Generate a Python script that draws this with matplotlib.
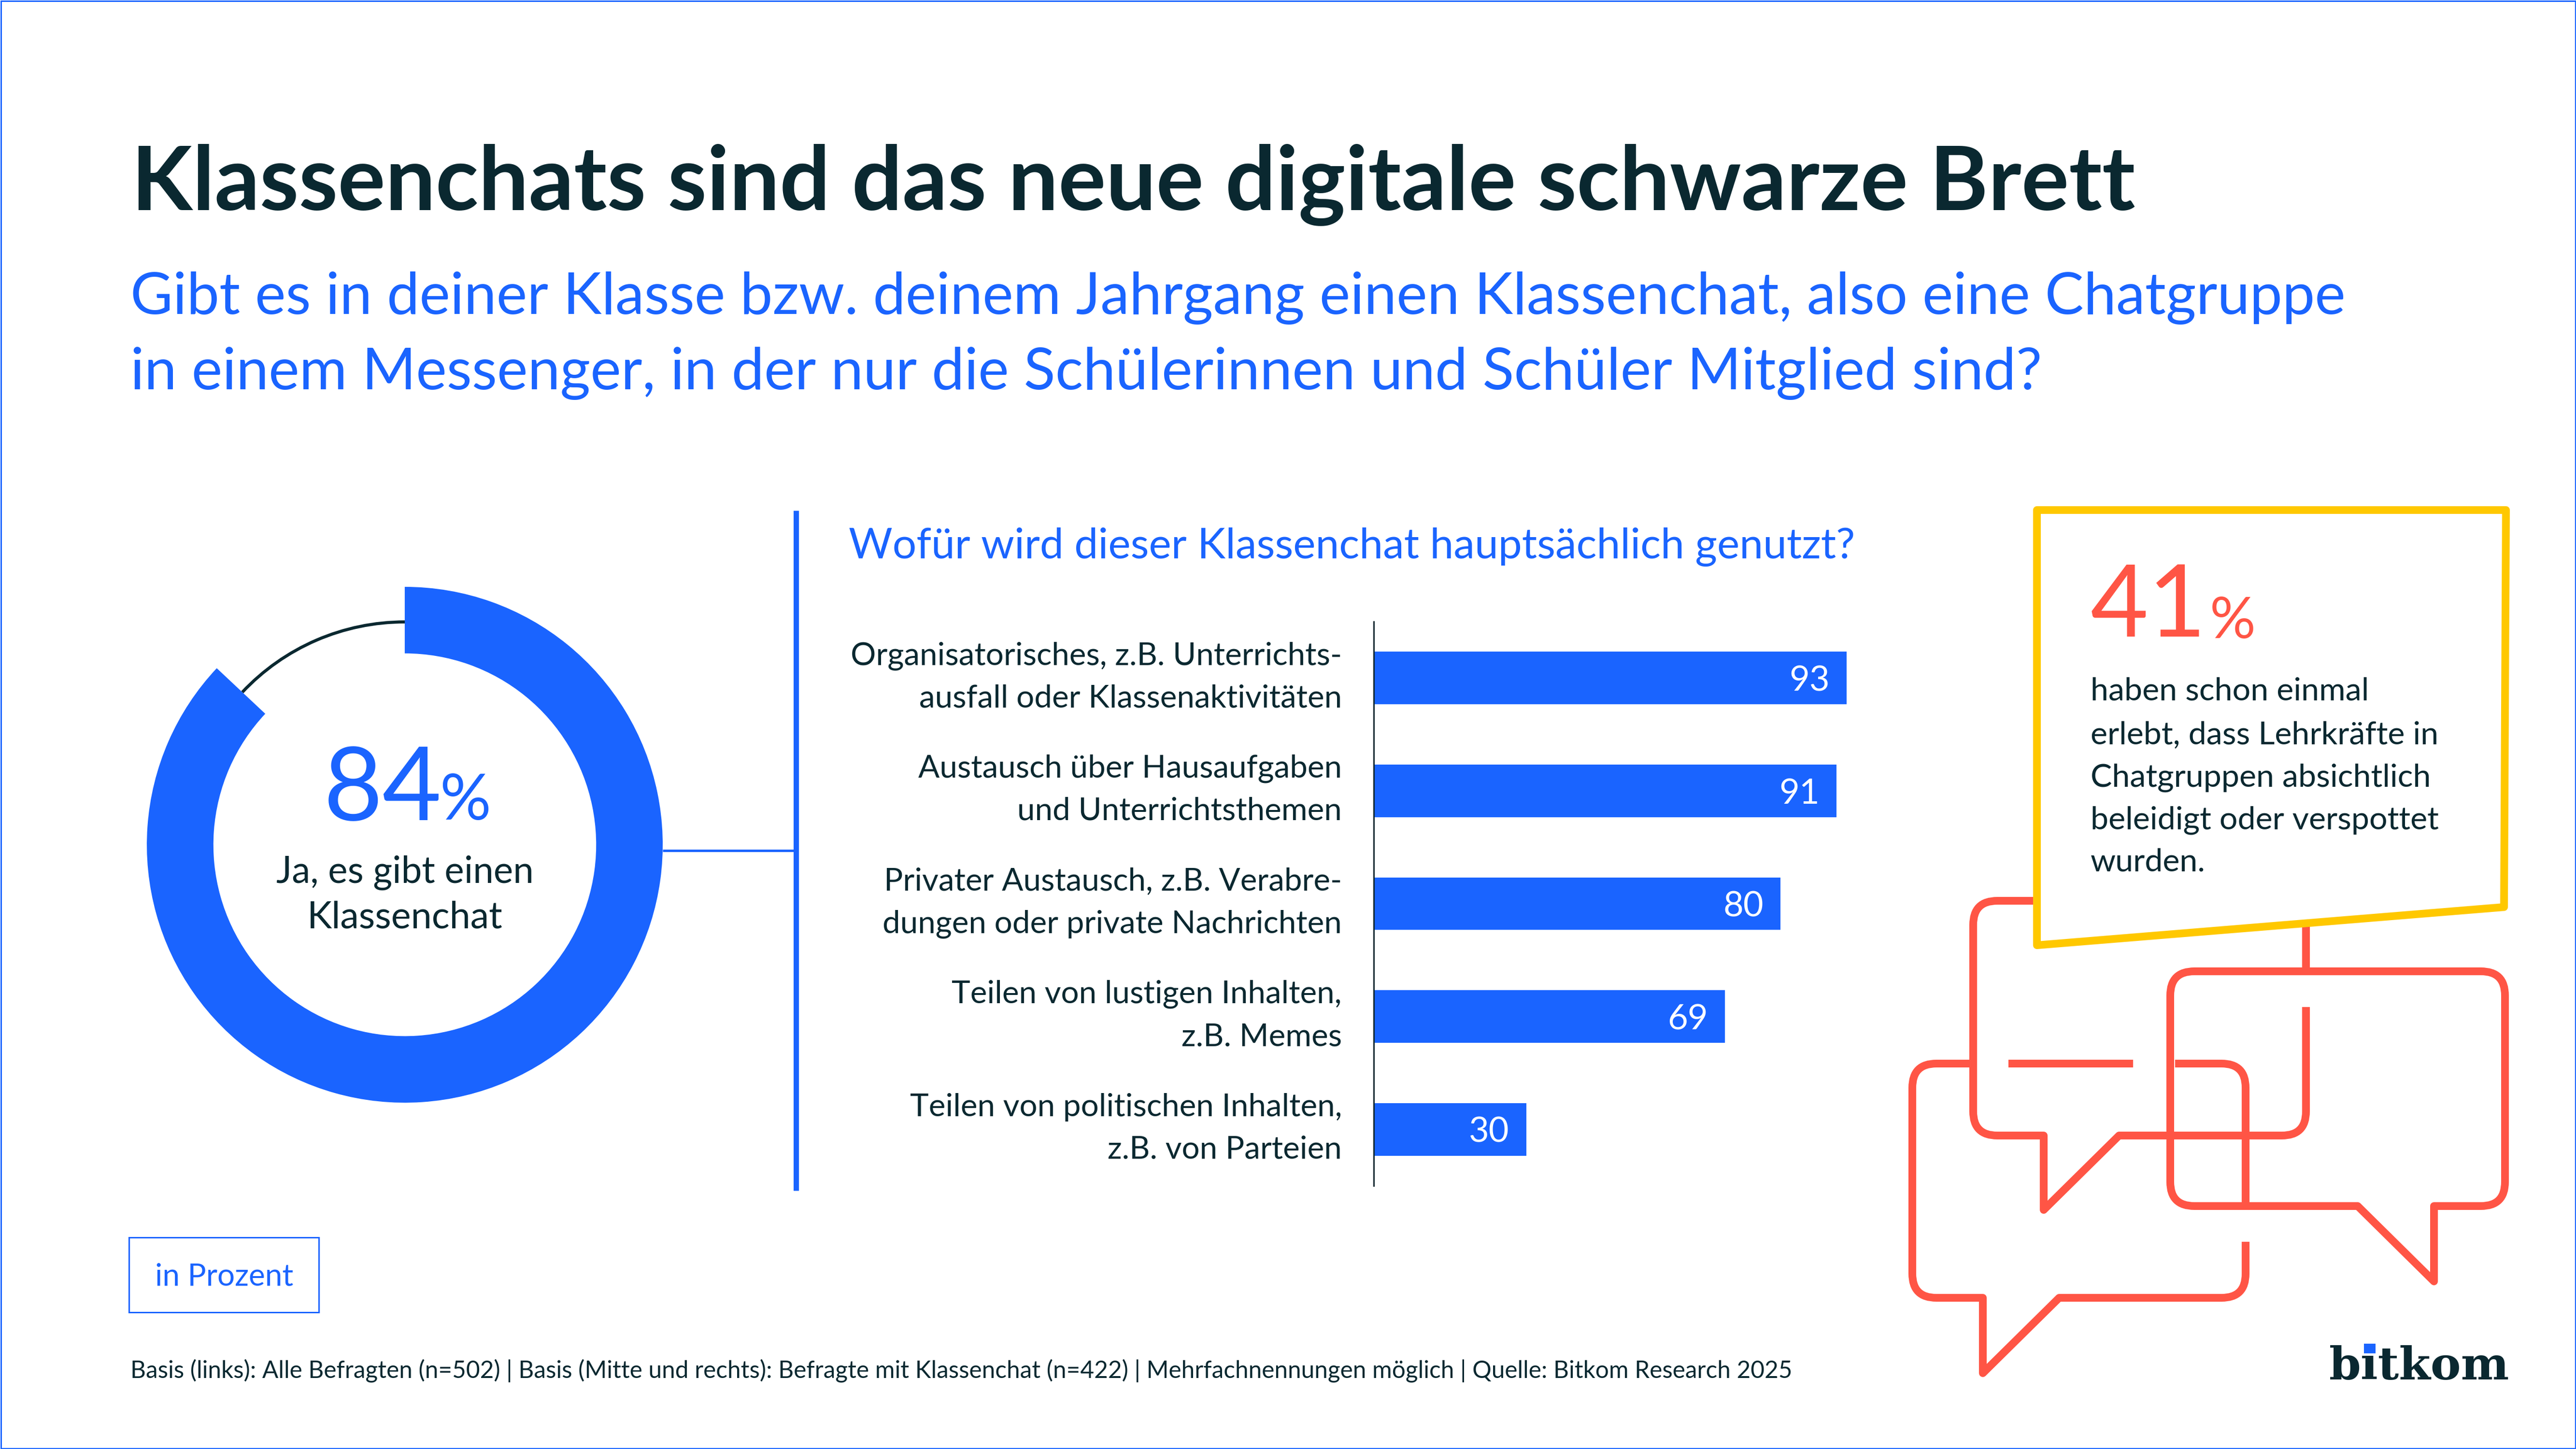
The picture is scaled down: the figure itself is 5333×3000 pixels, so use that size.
import matplotlib
matplotlib.use("Agg")
import matplotlib.pyplot as plt
from matplotlib.patches import PathPatch, Polygon, Rectangle
from matplotlib.path import Path
from matplotlib.transforms import ScaledTranslation

W, H = 5333, 3000
BLUE = "#1A64FF"
DARK = "#0A2830"
CORAL = "#FF5545"
YELLOW = "#FFC800"
FONT = "Lato"

plt.rcParams["font.family"] = [FONT, "DejaVu Sans"]

# data
title = "Klassenchats sind das neue digitale schwarze Brett"
question_lines = [
    "Gibt es in deiner Klasse bzw. deinem Jahrgang einen Klassenchat, also eine Chatgruppe",
    "in einem Messenger, in der nur die Schülerinnen und Schüler Mitglied sind?",
]
donut_label = "84"
# the ring in the picture is drawn a bit longer than the 84 it is labelled with
donut_shares = [87, 13]
usage_question = "Wofür wird dieser Klassenchat hauptsächlich genutzt?"
categories = [
    "Organisatorisches, z.B. Unterrichts-\nausfall oder Klassenaktivitäten",
    "Austausch über Hausaufgaben\nund Unterrichtsthemen",
    "Privater Austausch, z.B. Verabre-\ndungen oder private Nachrichten",
    "Teilen von lustigen Inhalten,\nz.B. Memes",
    "Teilen von politischen Inhalten,\nz.B. von Parteien",
]
values = [93, 91, 80, 69, 30]
callout_value = "41"
callout_lines = [
    "haben schon einmal",
    "erlebt, dass Lehrkräfte in",
    "Chatgruppen absichtlich",
    "beleidigt oder verspottet",
    "wurden.",
]
footer = ("Basis (links): Alle Befragten (n=502) | Basis (Mitte und rechts): Befragte mit Klassenchat (n=422) "
          "| Mehrfachnennungen möglich | Quelle: Bitkom Research 2025")

fig = plt.figure(figsize=(W / 100, H / 100), dpi=100, facecolor="white")

# page axes in pixels, y pointing down
page = fig.add_axes([0, 0, 1, 1])
page.set_xlim(0, W)
page.set_ylim(H, 0)
page.axis("off")


def px(n):
    return n * 0.72


def text_width(t):
    return t.get_window_extent(fig.canvas.get_renderer()).width


def label(x, y, s, width=None, size=40, color=DARK, weight="normal", ha="left", **kw):
    # width: target width in pixels, font size gets scaled to hit it
    t = page.text(x, y, s, fontsize=size, color=color, fontweight=weight, ha=ha, va="baseline", **kw)
    if width:
        t.set_fontsize(size * width / text_width(t))
    return t


def _towards(p, q, dist):
    dx, dy = q[0] - p[0], q[1] - p[1]
    length = (dx ** 2 + dy ** 2) ** 0.5
    return (p[0] + dx / length * dist, p[1] + dy / length * dist)


def stroke(points, color=CORAL, lw=16, radius=50, closed=False, zorder=2):
    # polyline, points with a third item get a rounded corner
    verts, codes = [], []
    n = len(points)
    for i, p in enumerate(points):
        if len(p) == 3:
            a = _towards(p, points[(i - 1) % n], radius)
            b = _towards(p, points[(i + 1) % n], radius)
            verts += [a, p[:2], b]
            codes += [Path.MOVETO if i == 0 else Path.LINETO, Path.CURVE3, Path.CURVE3]
        else:
            verts.append(p[:2])
            codes.append(Path.MOVETO if i == 0 else Path.LINETO)
    if closed:
        verts.append(verts[0])
        codes.append(Path.LINETO)
    page.add_patch(PathPatch(Path(verts, codes), fill=False, edgecolor=color, lw=px(lw),
                             joinstyle="round", capstyle="butt", zorder=zorder))


# frame
page.add_patch(Rectangle((1.5, 1.5), W - 3, H - 3, fill=False, edgecolor=BLUE, lw=px(3)))

# header
label(272, 435, title, width=4150, size=120, weight="bold")
label(270, 650, question_lines[0], width=4586, size=82, color=BLUE)
label(270, 806, question_lines[1], width=3960, size=82, color=BLUE)

# donut
R = 534
donut = fig.add_axes([(838 - R) / W, 1 - (1749 + R) / H, 2 * R / W, 2 * R / H])
donut.pie(donut_shares, colors=["none", DARK], radius=0.87, startangle=90, counterclock=False,
          wedgeprops={"width": 0.012, "linewidth": 0})
donut.pie(donut_shares, colors=[BLUE, "none"], radius=1, startangle=90, counterclock=False,
          wedgeprops={"width": 0.258, "linewidth": 0})
donut.set_xlim(-1, 1)
donut.set_ylim(-1, 1)
label(670, 1698, donut_label, width=245, size=150, color=BLUE)
label(910, 1697, "%", width=106, size=90, color=BLUE)
label(838, 1828, "Ja, es gibt einen", width=533, size=50, ha="center")
label(838, 1921, "Klassenchat", width=405, size=50, ha="center")

# connector and divider
page.plot([1372, 1648], [1761, 1761], color=BLUE, lw=px(5), solid_capstyle="butt")
page.plot([1648, 1648], [1057, 2465], color=BLUE, lw=px(11), solid_capstyle="butt")

# bars
label(1757, 1156, usage_question, width=2085, size=60, color=BLUE)
bars = fig.add_axes([2844 / W, 1 - 2455 / H, 1053 / W, (2455 - 1287) / H])
positions = list(range(len(values)))
bars.barh(positions, values, height=0.466, color=BLUE)
bars.set_xlim(0, 100)
bars.set_ylim(4.5, -0.5)
bars.set_yticks(positions, categories, fontsize=47.2, color=DARK, linespacing=1.6)
bars.tick_params(axis="y", length=0, pad=px(66))
shift_up = ScaledTranslation(0, 22 / 100, fig.dpi_scale_trans)
for tick_label in bars.get_yticklabels():
    tick_label.set_transform(tick_label.get_transform() + shift_up)
bars.set_xticks([])
for side in ["top", "right", "bottom"]:
    bars.spines[side].set_visible(False)
bars.spines["left"].set_color(DARK)
bars.spines["left"].set_linewidth(px(3))
bars.patch.set_alpha(0)
for pos, v in zip(positions, values):
    bars.annotate(str(v), (v, pos), xytext=(-px(35), -px(6)), textcoords="offset points", ha="right",
                  va="center", color="white", fontsize=52)

# speech bubbles
stroke([(4210, 1865), (4085, 1865, 1), (4085, 2351, 1), (4231, 2351), (4231, 2505), (4387, 2351),
        (4774, 2351, 1), (4774, 2085)])
stroke([(4774, 1918), (4774, 2011)])
stroke([(4800, 2011), (5186, 2011, 1), (5186, 2497, 1), (5039, 2497), (5039, 2653), (4881, 2497),
        (4493, 2497, 1), (4493, 2011, 1)], closed=True)
stroke([(4085, 2202), (3959, 2202, 1), (3959, 2687, 1), (4105, 2687), (4105, 2843), (4263, 2687),
        (4649, 2687, 1), (4649, 2571)])
stroke([(4649, 2497), (4649, 2202, 1), (4503, 2202)])
stroke([(4158, 2202), (4416, 2202)])

# callout box
page.add_patch(Polygon([(4217, 1056), (5188, 1056), (5184, 1878), (4217, 1957)], closed=True,
                       facecolor="white", edgecolor=YELLOW, lw=px(16), joinstyle="round", zorder=3))
label(4328, 1318, callout_value, width=240, size=130, color=CORAL, zorder=4)
label(4575, 1321, "%", width=95, size=90, color=CORAL, zorder=4)
for y, line in zip([1450, 1540, 1628, 1716, 1804], callout_lines):
    label(4328, y, line, size=47.8, zorder=4)

# unit box and footer
page.add_patch(Rectangle((267, 2562), 393, 155, fill=False, edgecolor=BLUE, lw=px(3)))
label(321, 2662, "in Prozent", width=286, size=46, color=BLUE)
label(270, 2853, footer, width=3446, size=36)

# logo, a blue square sits on the dot of the i
logo = label(4822, 2856, "bitkom", width=373, size=90, weight="bold", family="DejaVu Serif")
logo_size = logo.get_fontsize()
em = logo_size / 0.72
probe = label(0, 0, "b", size=logo_size, weight="bold", family="DejaVu Serif")
b_width = text_width(probe)
probe.set_text("bi")
bi_width = text_width(probe)
probe.remove()
i_center = 4822 + (b_width + bi_width) / 2
page.add_patch(Rectangle((i_center - 0.125 * em, 2856 - 0.79 * em), 0.25 * em, 0.22 * em,
                         facecolor=BLUE, edgecolor="none", zorder=5))

fig.savefig("out.png", dpi=100, facecolor="white")
